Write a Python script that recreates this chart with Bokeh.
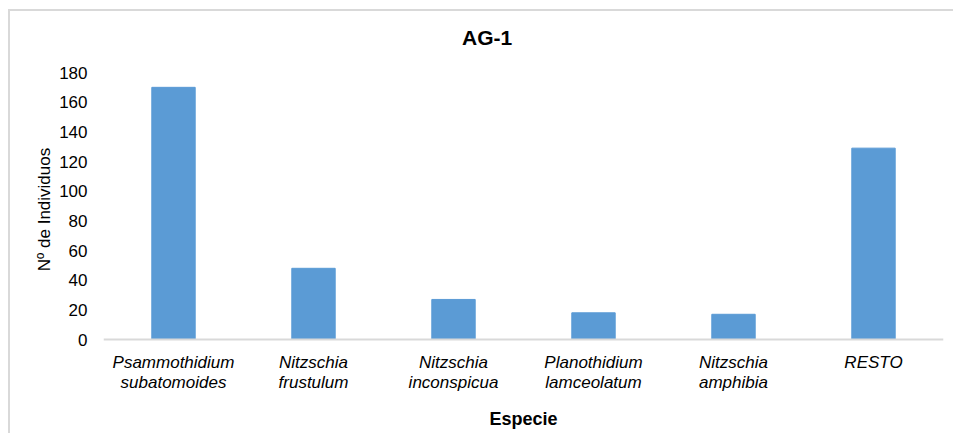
from bokeh.plotting import figure
from bokeh.models import Range1d, FactorRange, Label, Span
from bokeh.embed import file_html
from bokeh.resources import INLINE

categories = ["Psammothidium subatomoides", "Nitzschia frustulum", "Nitzschia inconspicua",
              "Planothidium lamceolatum", "Nitzschia amphibia", "RESTO"]
label_line1 = ["Psammothidium", "Nitzschia", "Nitzschia", "Planothidium", "Nitzschia", "RESTO"]
label_line2 = ["subatomoides", "frustulum", "inconspicua", "lamceolatum", "amphibia", ""]
values = [170, 48, 27, 18, 17, 129]
y_ticks = [0, 20, 40, 60, 80, 100, 120, 140, 160, 180]
title_text = "AG-1"

FONT = "Liberation Sans"

# layout: value axis 0..180 spans 267 px; the frame extends above and below it
PX = 267 / 180.0            # pixels per unit
TOP_EXTRA = 53              # px of frame above 180 (room for the title)
BOTTOM_EXTRA = 60           # px of frame below 0 (room for category labels)
y_hi = 180 + TOP_EXTRA / PX
y_lo = -BOTTOM_EXTRA / PX

p = figure(x_range=FactorRange(*categories, range_padding=0), y_range=Range1d(y_lo, y_hi),
           width=945, height=424, output_backend="svg", toolbar_location=None,
           min_border_left=93, min_border_right=12,
           min_border_top=8, min_border_bottom=36)
p.styles = {"border-top": "2px solid #d9d9d9", "border-left": "2px solid #d9d9d9",
            "margin-left": "8px", "margin-top": "9px"}

p.vbar(x=categories, top=values, width=0.31, color="#5B9BD5")

# category axis line at value 0
p.add_layout(Span(location=0, dimension="width", line_color="#d9d9d9", line_width=2))

# two-line italic category labels (factor i sits at synthetic coordinate i + 0.5)
for i, (l1, l2) in enumerate(zip(label_line1, label_line2)):
    for txt, dy in ((l1, 23), (l2, 43)):
        if txt:
            p.add_layout(Label(x=i + 0.5, y=-dy / PX, text=txt,
                               text_align="center", text_baseline="alphabetic",
                               text_font=FONT, text_font_size="17px",
                               text_font_style="italic", text_color="black"))

# chart title
p.add_layout(Label(x=2.74, y=180 + 35 / PX, text=title_text,
                   text_align="center", text_baseline="alphabetic",
                   text_font=FONT, text_font_size="21px",
                   text_font_style="bold", text_color="black"))

p.outline_line_color = None
p.xgrid.grid_line_color = None
p.ygrid.grid_line_color = None

p.yaxis.ticker = y_ticks
p.yaxis.axis_line_color = None
p.yaxis.major_tick_line_color = None
p.yaxis.minor_tick_line_color = None
p.yaxis.major_label_text_font = FONT
p.yaxis.major_label_text_font_size = "17px"
p.yaxis.major_label_text_color = "black"
p.yaxis.major_label_standoff = 10
p.yaxis.axis_label = "Nº de Individuos"
p.yaxis.axis_label_text_font = FONT
p.yaxis.axis_label_text_font_size = "17px"
p.yaxis.axis_label_text_font_style = "normal"
p.yaxis.axis_label_text_color = "black"
p.yaxis.axis_label_standoff = 2

p.xaxis.axis_line_color = None
p.xaxis.major_tick_line_color = None
p.xaxis.minor_tick_line_color = None
p.xaxis.major_label_text_color = None
p.xaxis.major_label_text_font_size = "1px"
p.xaxis.major_label_standoff = 0
p.xaxis.axis_label = "Especie"
p.xaxis.axis_label_text_font = FONT
p.xaxis.axis_label_text_font_size = "18px"
p.xaxis.axis_label_text_font_style = "bold"
p.xaxis.axis_label_text_color = "black"
p.xaxis.axis_label_standoff = 3

open("out.html", "w").write(file_html(p, INLINE))
